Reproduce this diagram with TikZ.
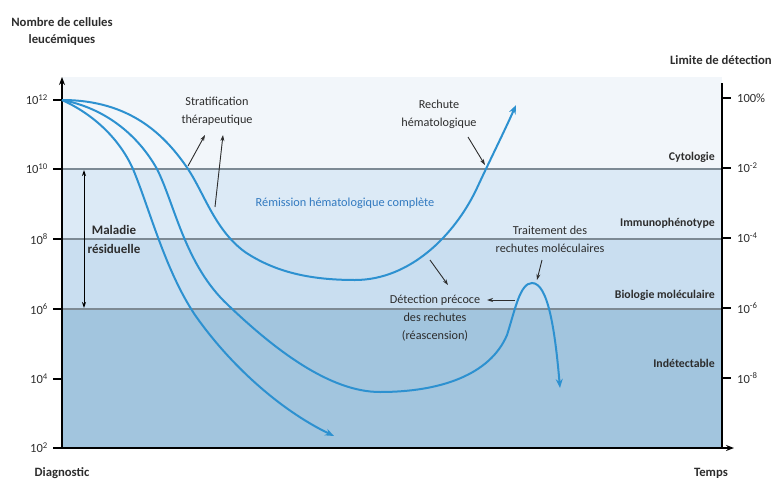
\documentclass[tikz,border=0pt]{standalone}
\usepackage{fontspec}
\setmainfont{Carlito}
\usetikzlibrary{arrows.meta}
\definecolor{bgA}{RGB}{242,246,250}
\definecolor{bgB}{RGB}{220,234,246}
\definecolor{bgC}{RGB}{201,222,240}
\definecolor{bgD}{RGB}{162,197,222}
\definecolor{curvecol}{RGB}{45,145,208}
\definecolor{gridcol}{RGB}{125,138,148}
\definecolor{remcol}{RGB}{50,122,192}
\definecolor{txtcol}{RGB}{45,45,45}
\begin{document}
\begin{tikzpicture}[x=1pt,y=-1pt,
  lbl/.style={font=\fontsize{12.7}{15}\selectfont\bfseries, text=txtcol, inner sep=0pt},
  meth/.style={font=\fontsize{11.8}{14}\selectfont\bfseries, text=txtcol, inner sep=0pt, anchor=east},
  ann/.style={font=\fontsize{12.2}{18}\selectfont, text=txtcol, align=center, inner sep=0pt},
  tick/.style={font=\fontsize{12.5}{14}\selectfont, text=txtcol, inner sep=0pt},
  curve/.style={draw=curvecol, line width=2pt, -{Stealth[length=9pt,width=7pt]}},
  pointer/.style={draw=txtcol, line width=0.9pt, -{Stealth[length=6pt,width=4pt]}},
  axis/.style={draw=black, line width=2pt},
  level/.style={draw=gridcol, line width=2pt}
]
\useasboundingbox (0,0) rectangle (773,479);
% background bands
\fill[bgA] (62,77) rectangle (722,169);
\fill[bgB] (62,169) rectangle (722,239);
\fill[bgC] (62,239) rectangle (722,309);
\fill[bgD] (62,309) rectangle (722,448);
% level lines
\draw[level] (62,169) -- (722,169);
\draw[level] (62,239) -- (722,239);
\draw[level] (62,309) -- (722,309);
% axes
\coordinate (O) at (62,448);
\coordinate (Ytop) at (62,77);
\coordinate (Xend) at (734,448);
\coordinate (Rtop) at (722,83);
\coordinate (Rbot) at (722,448);
\draw[axis, -{Stealth[length=8pt,width=6pt]}] (O) -- (Ytop);
\draw[axis, -{Stealth[length=8pt,width=6pt]}] (O) -- (Xend);
\draw[axis] (Rbot) -- (Rtop);
% left ticks
\foreach \yy/\ee in {100/12,169/10,239/8,309/6,379/4,448/2}{
  \draw[axis] (53,\yy) -- (62,\yy);
  \node[tick, anchor=east] (L\ee) at (48,\yy) {10\textsuperscript{\ee}};
}
% right ticks
\foreach \yy/\ee/\nm in {168/-2/a,238/-4/b,308/-6/c,378/-8/d}{
  \draw[axis] (722,\yy) -- (731,\yy);
  \node[tick, anchor=west] (R\nm) at (737,\yy) {10\textsuperscript{\ee}};
}
\draw[axis] (722,98) -- (731,98);
\node[tick, anchor=west] (R0) at (737,98) {100\%};
% titles
\node[lbl] (ytitleA) at (62,22) {Nombre de cellules};
\node[lbl] (ytitleB) at (62,40) {leucémiques};
\node[lbl, anchor=east] (rtitle) at (772,60) {Limite de détection};
\node[lbl] (diag) at (62,473) {Diagnostic};
\node[lbl] (temps) at (711,473) {Temps};
% method labels
\node[meth] (cyto) at (715,157) {Cytologie};
\node[meth] (immuno) at (715,223) {Immunophénotype};
\node[meth] (biomol) at (715,295) {Biologie moléculaire};
\node[meth] (indet) at (715,363) {Indétectable};
% maladie residuelle
\coordinate (mrTop) at (84,170);
\coordinate (mrBot) at (84,308);
\draw[draw=black, line width=1pt, {Stealth[length=6pt,width=4pt]}-{Stealth[length=6pt,width=4pt]}] (mrTop) -- (mrBot);
\node[lbl, align=center, font=\fontsize{13}{19}\selectfont\bfseries] (mr) at (114,239) {Maladie\\résiduelle};
% curves
\coordinate (start) at (62,100);
\coordinate (c1end) at (516,105);
\coordinate (c2end) at (560,388);
\coordinate (c3end) at (334,436);
\draw[curve] (start) .. controls (130,100) and (165,135) .. (188,169)
  .. controls (205,195) and (215,230) .. (245,252)
  .. controls (275,272) and (310,280) .. (355,280)
  .. controls (410,280) and (455,235) .. (477,188)
  .. controls (490,160) and (505,130) .. (c1end);
\draw[curve] (start) .. controls (105,108) and (138,135) .. (157,169)
  .. controls (175,205) and (185,265) .. (228,305)
  .. controls (275,350) and (330,392) .. (380,392)
  .. controls (440,392) and (490,375) .. (507,335)
  .. controls (515,310) and (520,283) .. (532,283)
  .. controls (548,283) and (555,330) .. (c2end);
\draw[curve] (start) .. controls (95,115) and (120,140) .. (133,169)
  .. controls (150,210) and (165,270) .. (195,315)
  .. controls (230,365) and (280,410) .. (c3end);
% annotations
\node[ann] (strat) at (217,111) {Stratification\\thérapeutique};
\coordinate (s1) at (188,166);
\coordinate (s2) at (215,207);
\draw[pointer] (s1) -- (205,135);
\draw[pointer] (s2) -- (223,135);
\node[ann] (rechute) at (439,114) {Rechute\\hématologique};
\coordinate (rh) at (485,165);
\draw[pointer] (468,137) -- (rh);
\node[font=\fontsize{12.3}{14}\selectfont, text=remcol, inner sep=0pt] (remission) at (345,203) {Rémission hématologique complète};
\node[ann] (traitement) at (550,239) {Traitement des\\rechutes moléculaires};
\coordinate (peak) at (537,280);
\draw[pointer] (542,260) -- (peak);
\node[ann] (detection) at (435,318) {Détection précoce\\des rechutes\\(réascension)};
\coordinate (rise) at (515,300);
\coordinate (c1p) at (430,260);
\draw[pointer] (rise) -- (487,300);
\draw[pointer] (c1p) -- (448,285);
\end{tikzpicture}
\end{document}
